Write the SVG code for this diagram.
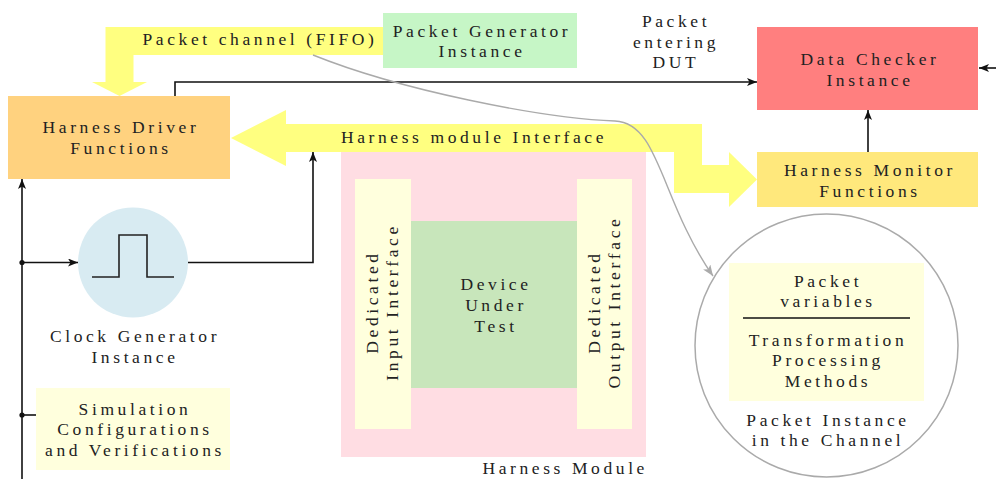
<svg xmlns="http://www.w3.org/2000/svg" width="996" height="479" viewBox="0 0 996 479">
<defs>
<style>
text{font-family:'Liberation Serif','Times New Roman','DejaVu Serif',serif;font-size:17.5px;letter-spacing:3.6px;fill:#222;text-anchor:middle}
.ln{fill:none;stroke:#111;stroke-width:1.6}
.band{fill:none;stroke:#FFFF80;stroke-width:28;stroke-linejoin:miter;stroke-linecap:butt}
.head{fill:#FFFF80}
.ly{fill:#FFFFDD}
</style>
<marker id="ah" viewBox="0 0 10 8" refX="10" refY="4" markerWidth="10" markerHeight="8" markerUnits="userSpaceOnUse" orient="auto">
<path d="M0,0 L10,4 L0,8 L2.5,4 z" fill="#111"/>
</marker>
<marker id="ahg" viewBox="0 0 10 8" refX="10" refY="4" markerWidth="11" markerHeight="9" markerUnits="userSpaceOnUse" orient="auto">
<path d="M0,0 L10,4 L0,8 L2.5,4 z" fill="#AAAAAA"/>
</marker>
</defs>

<g id="harness-module">
<rect x="341" y="152" width="305" height="305" fill="#FFDDE3"/>
<text x="648" y="474" style="text-anchor:end">Harness Module</text>
</g>

<g id="packet-channel">
<path class="band" d="M390,41 H119.5 V83"/>
<path class="head" d="M92,82 H147 L119.5,96 z"/>
<text x="260" y="45">Packet channel (FIFO)</text>
</g>

<g id="harness-interface">
<path class="band" d="M285,138 H688 V179 H730"/>
<path class="head" d="M286,110 V166 L231,138 z"/>
<path class="head" d="M729,152 V207 L757,179.5 z"/>
<text x="474" y="143">Harness module Interface</text>
</g>

<g id="packet-generator">
<rect x="383" y="13" width="194" height="55" fill="#C6F6C6"/>
<text x="482" y="37">Packet Generator</text>
<text x="482" y="57">Instance</text>
</g>

<g id="packet-entering-label">
<text x="676" y="27">Packet</text>
<text x="676" y="48">entering</text>
<text x="676" y="68">DUT</text>
</g>

<g id="data-checker">
<rect x="757" y="27" width="221" height="83" fill="#FF7F7F"/>
<text x="870" y="65">Data Checker</text>
<text x="870" y="86">Instance</text>
</g>

<g id="harness-driver">
<rect x="8" y="96" width="222" height="83" fill="#FFD27F"/>
<text x="121" y="133">Harness Driver</text>
<text x="121" y="154">Functions</text>
</g>

<g id="harness-monitor">
<rect x="757" y="152" width="221" height="55" fill="#FFE87C"/>
<text x="870" y="176">Harness Monitor</text>
<text x="870" y="197">Functions</text>
</g>

<g id="input-interface">
<rect class="ly" x="355" y="179" width="56" height="250"/>
<text transform="translate(378,304) rotate(-90)" x="2" y="0">Dedicated</text>
<text transform="translate(398,304) rotate(-90)" x="2" y="0">Input Interface</text>
</g>

<g id="dut">
<rect x="411" y="221" width="166" height="167" fill="#C8E6BB"/>
<text x="496" y="290">Device</text>
<text x="496" y="311">Under</text>
<text x="496" y="332">Test</text>
</g>

<g id="output-interface">
<rect class="ly" x="577" y="179" width="55" height="250"/>
<text transform="translate(600,304) rotate(-90)" x="2" y="0">Dedicated</text>
<text transform="translate(620,304) rotate(-90)" x="2" y="0">Output Interface</text>
</g>

<g id="clock-generator">
<circle cx="133" cy="262.5" r="55" fill="#D8EBF2"/>
<path d="M92,277 H119 V235 H147 V277 H174" fill="none" stroke="#222" stroke-width="1.6"/>
<text x="135" y="342">Clock Generator</text>
<text x="135" y="363">Instance</text>
</g>

<g id="simulation">
<rect class="ly" x="36" y="388" width="194" height="82"/>
<text x="135" y="415">Simulation</text>
<text x="135" y="435">Configurations</text>
<text x="135" y="456">and Verifications</text>
</g>

<g id="packet-instance">
<circle cx="826.5" cy="345.5" r="131.5" fill="#fff" stroke="#AAAAAA" stroke-width="1.5"/>
<rect class="ly" x="729" y="263" width="195" height="138"/>
<text x="828" y="287">Packet</text>
<text x="828" y="307">variables</text>
<line x1="743" y1="318" x2="910" y2="318" stroke="#111" stroke-width="1.6"/>
<text x="828" y="346">Transformation</text>
<text x="828" y="366">Processing</text>
<text x="828" y="387">Methods</text>
<text x="828" y="426">Packet Instance</text>
<text x="828" y="446">in the Channel</text>
</g>

<g id="connectors">
<path class="ln" d="M175,96 V82 H757" marker-end="url(#ah)"/>
<path class="ln" d="M868,152 V110" marker-end="url(#ah)"/>
<path class="ln" d="M996,68 H979" marker-end="url(#ah)"/>
<path class="ln" d="M22,479 V179" marker-end="url(#ah)"/>
<path class="ln" d="M22,262.5 H78" marker-end="url(#ah)"/>
<path class="ln" d="M22,415 H36"/>
<circle cx="22" cy="262.5" r="2.6" fill="#111"/>
<circle cx="22" cy="415" r="2.6" fill="#111"/>
<path class="ln" d="M188,262.5 H313 V152" marker-end="url(#ah)"/>
<path d="M313,55 C400,90 540,118 615,121 C660,123 660,200 713,276" fill="none" stroke="#AAAAAA" stroke-width="1.4" marker-end="url(#ahg)"/>
</g>
</svg>
